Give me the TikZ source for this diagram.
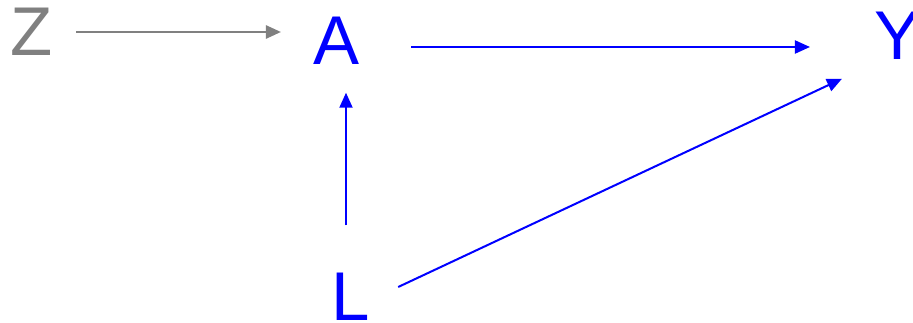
\documentclass[tikz,border=0pt]{standalone}
\usepackage{fontspec}
\setmainfont{Liberation Sans}
\usetikzlibrary{arrows.meta, positioning, calc}
\usepackage{xcolor}
\definecolor{dagblue}{HTML}{0000FF}
\definecolor{daggray}{HTML}{808080}

\begin{document}
\begin{tikzpicture}[x=1pt, y=-1pt, every node/.style={inner sep=0pt, outer sep=0pt, font=\fontsize{69}{69}\selectfont},
    arr/.style={-{Triangle[length=15pt, width=13pt]}, line width=2pt, dagblue}]
    \useasboundingbox (0,0) rectangle (913,323);
    \node[daggray] (Z) at (32,32) {Z};
    \node[dagblue] (A) at (337,41) {A};
    \node[dagblue] (Y) at (898,36) {Y};
    \node[dagblue] (L) at (351,297) {L};
    \draw[arr, daggray, line width=2.5pt, shorten <=23pt, shorten >=33pt] (Z.east) -- (Z.east -| A.west);
    \draw[arr, shorten <=51pt, shorten >=65pt] ([yshift=-6pt]A.east) -- ([yshift=-6pt]A.east -| Y.west);
    \draw[arr, shorten <=48pt, shorten >=28pt] ([xshift=-5pt]L.north) -- ([xshift=-5pt]L.north |- A.south);
    \draw[arr] ([shift={(28,-10)}]L.east) -- ([shift={(-33,19)}]Y.south west);
  \end{tikzpicture}
\end{document}
